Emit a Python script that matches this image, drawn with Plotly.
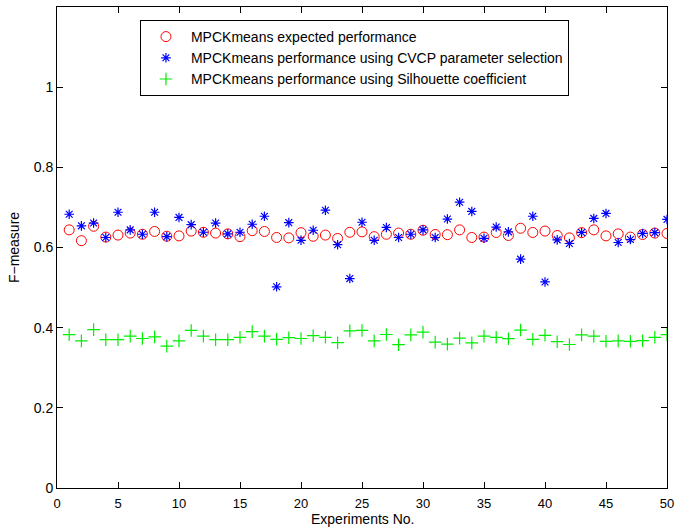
import plotly.graph_objects as go

experiments = list(range(1, 51))

expected = [
    0.644, 0.617, 0.653, 0.626, 0.631, 0.636, 0.633, 0.640, 0.628, 0.629,
    0.641, 0.638, 0.636, 0.634, 0.627, 0.642, 0.640, 0.625, 0.624, 0.637,
    0.628, 0.631, 0.6225, 0.638, 0.639, 0.627, 0.633, 0.636, 0.633, 0.643,
    0.6325, 0.632, 0.644, 0.625, 0.626, 0.6375, 0.630, 0.648, 0.6375, 0.641,
    0.630, 0.624, 0.637, 0.644, 0.629, 0.634, 0.626, 0.6325, 0.636, 0.635,
]

cvcp = [
    0.683, 0.654, 0.661, 0.625, 0.688, 0.644, 0.633, 0.688, 0.627, 0.675,
    0.657, 0.638, 0.661, 0.634, 0.638, 0.658, 0.678, 0.502, 0.662, 0.618,
    0.643, 0.693, 0.607, 0.5225, 0.663, 0.618, 0.650, 0.625, 0.633, 0.644,
    0.625, 0.671, 0.713, 0.690, 0.623, 0.651, 0.639, 0.571, 0.678, 0.514,
    0.619, 0.610, 0.6375, 0.6725, 0.685, 0.6125, 0.620, 0.635, 0.637, 0.670,
]

silhouette = [
    0.3825, 0.367, 0.395, 0.370, 0.370, 0.379, 0.373, 0.377, 0.354, 0.367,
    0.393, 0.379, 0.370, 0.370, 0.376, 0.390, 0.379, 0.371, 0.375, 0.373,
    0.380, 0.376, 0.3625, 0.392, 0.393, 0.367, 0.383, 0.3575, 0.382, 0.389,
    0.364, 0.359, 0.374, 0.362, 0.379, 0.376, 0.3725, 0.394, 0.371, 0.381,
    0.365, 0.358, 0.382, 0.379, 0.366, 0.367, 0.366, 0.3675, 0.376, 0.3825,
]

labels = [
    "MPCKmeans expected performance",
    "MPCKmeans performance using CVCP parameter selection",
    "MPCKmeans performance using Silhouette coefficient",
]

FONT = "Liberation Sans, Arial, Helvetica, sans-serif"

fig = go.Figure()
fig.add_trace(go.Scatter(
    x=experiments, y=expected, mode="markers", name=labels[0],
    marker=dict(symbol="circle-open", size=10, color="#ff0000",
                line=dict(width=1, color="#ff0000")),
))
fig.add_trace(go.Scatter(
    x=experiments, y=cvcp, mode="markers", name=labels[1],
    marker=dict(symbol="asterisk-open", size=8, color="#0000ff",
                line=dict(width=1.2, color="#0000ff")),
))
fig.add_trace(go.Scatter(
    x=experiments, y=silhouette, mode="markers", name=labels[2],
    marker=dict(symbol="cross-thin-open", size=9, color="#00ee00",
                line=dict(width=1.2, color="#00ee00")),
))

axis_common = dict(
    showline=True, linecolor="black", linewidth=1, mirror="ticks",
    ticks="inside", ticklen=6, tickcolor="black", tickwidth=1,
    showgrid=False, zeroline=False, automargin=False,
)

fig.update_xaxes(
    range=[0, 50], tick0=0, dtick=5, ticklabelstandoff=3,
    tickfont=dict(family=FONT, size=13, color="black"),
    **axis_common,
)
fig.update_yaxes(
    range=[0, 1.2], tickvals=[0, 0.2, 0.4, 0.6, 0.8, 1], ticktext=["0", "0.2", "0.4", "0.6", "0.8", "1"],
    tickfont=dict(family=FONT, size=14, color="black"),
    title=dict(text="F\u2212measure", font=dict(family=FONT, size=14, color="black"), standoff=10),
    **axis_common,
)

# x-axis caption placed just under the tick labels
fig.add_annotation(
    text="Experiments No.", xref="paper", yref="paper", x=0.5, y=-0.0645,
    xanchor="center", yanchor="middle", showarrow=False,
    font=dict(family=FONT, size=14, color="black"),
)

fig.update_layout(
    width=675, height=529,
    margin=dict(l=57, r=8, t=7, b=41),
    paper_bgcolor="white", plot_bgcolor="white",
    font=dict(family=FONT, size=14, color="black"),
    showlegend=True,
    legend=dict(
        x=0.136, y=0.973, xanchor="left", yanchor="top",
        bgcolor="white", bordercolor="black", borderwidth=1,
        font=dict(family=FONT, size=14, color="black"),
        tracegroupgap=0, itemwidth=40,
    ),
)

fig.write_html("out.html")
